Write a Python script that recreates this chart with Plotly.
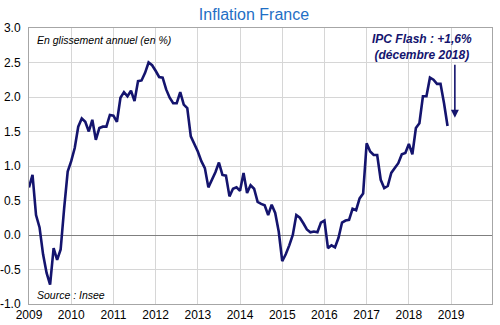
import plotly.graph_objects as go

years = list(range(2009, 2019))
inflation_by_year = {
    2009: [0.69, 0.87, 0.29, 0.11, -0.28, -0.55, -0.72, -0.19, -0.36, -0.21, 0.39, 0.92],
    2010: [1.07, 1.26, 1.57, 1.69, 1.64, 1.50, 1.67, 1.38, 1.55, 1.57, 1.57, 1.74],
    2011: [1.73, 1.64, 1.99, 2.07, 2.01, 2.09, 1.94, 2.23, 2.24, 2.35, 2.50, 2.46],
    2012: [2.38, 2.29, 2.28, 2.11, 1.99, 1.91, 1.91, 2.07, 1.89, 1.84, 1.43, 1.33],
    2013: [1.21, 1.07, 0.97, 0.69, 0.79, 0.91, 1.05, 0.87, 0.86, 0.56, 0.67, 0.69],
    2014: [0.64, 0.90, 0.61, 0.72, 0.67, 0.48, 0.45, 0.43, 0.29, 0.44, 0.32, 0.05],
    2015: [-0.38, -0.28, -0.15, 0.00, 0.29, 0.25, 0.17, 0.08, 0.04, 0.05, 0.04, 0.18],
    2016: [0.21, -0.19, -0.15, -0.18, -0.04, 0.18, 0.21, 0.22, 0.38, 0.36, 0.53, 0.60],
    2017: [1.33, 1.21, 1.16, 1.16, 0.80, 0.68, 0.71, 0.90, 0.97, 1.04, 1.17, 1.19],
    2018: [1.32, 1.17, 1.55, 1.62, 2.01, 2.01, 2.28, 2.25, 2.19, 2.19, 1.91, 1.58],
}
x_tick_labels = [str(y) for y in range(2009, 2020)]
y_tick_values = [-1.0, -0.5, 0.0, 0.5, 1.0, 1.5, 2.0, 2.5, 3.0]

x_vals = []
y_vals = []
for yr in years:
    for m, v in enumerate(inflation_by_year[yr]):
        x_vals.append(yr + m / 12)
        y_vals.append(v)

FONT = "Arial, Liberation Sans, sans-serif"
NAVY = "#14146e"

fig = go.Figure()
fig.add_trace(go.Scatter(x=x_vals, y=y_vals, mode="lines",
                         line=dict(color=NAVY, width=2.6), showlegend=False,
                         hoverinfo="skip"))

fig.update_layout(
    width=500, height=325,
    margin=dict(l=29, r=8, t=28, b=21),
    paper_bgcolor="white", plot_bgcolor="white",
    font=dict(family=FONT, size=12, color="black"),
    title=dict(text="Inflation France", x=0.508, xanchor="center", y=0.957, yanchor="middle",
               font=dict(family=FONT, size=16, color="#1f6fc5")),
)
fig.update_xaxes(
    range=[2009, 2019.97], tickmode="array",
    tickvals=[int(t) for t in x_tick_labels], ticktext=x_tick_labels,
    showgrid=True, gridcolor="#d6d6d6", gridwidth=1,
    showline=True, mirror=True, linecolor="#a6a6a6", linewidth=1,
    zeroline=False, ticks="", tickfont=dict(size=12, color="black"),
    ticklabelstandoff=0, automargin=False,
)
fig.update_yaxes(
    range=[-1.0, 3.0], tickmode="array", tickvals=y_tick_values,
    ticktext=[f"{v:.1f}" for v in y_tick_values],
    showgrid=True, gridcolor="#d6d6d6", gridwidth=1,
    showline=True, mirror=True, linecolor="#a6a6a6", linewidth=1,
    zeroline=True, zerolinecolor="#7f7f7f", zerolinewidth=1,
    ticks="", tickfont=dict(size=12, color="black"),
    ticklabelstandoff=5, automargin=False,
)

fig.add_annotation(x=0.012, y=0.955, xref="paper", yref="paper", xanchor="left", yanchor="middle",
                   text="<i>En glissement annuel (en %)</i>", showarrow=False,
                   font=dict(family=FONT, size=10.5, color="black"))
fig.add_annotation(x=0.012, y=0.032, xref="paper", yref="paper", xanchor="left", yanchor="middle",
                   text="<i>Source : Insee</i>", showarrow=False,
                   font=dict(family=FONT, size=10.5, color="black"))
fig.add_annotation(x=2018.31, y=2.72, xref="x", yref="y", xanchor="center", yanchor="middle",
                   text="<b><i>IPC Flash : +1,6%<br>(décembre 2018)</i></b>", showarrow=False,
                   font=dict(family=FONT, size=12, color=NAVY))
fig.add_annotation(x=2019.09, y=1.70, ax=2019.09, ay=2.49, xref="x", yref="y",
                   axref="x", ayref="y", text="", showarrow=True,
                   arrowhead=2, arrowsize=1, arrowwidth=1.6, arrowcolor=NAVY)

fig.write_html("out.html")
